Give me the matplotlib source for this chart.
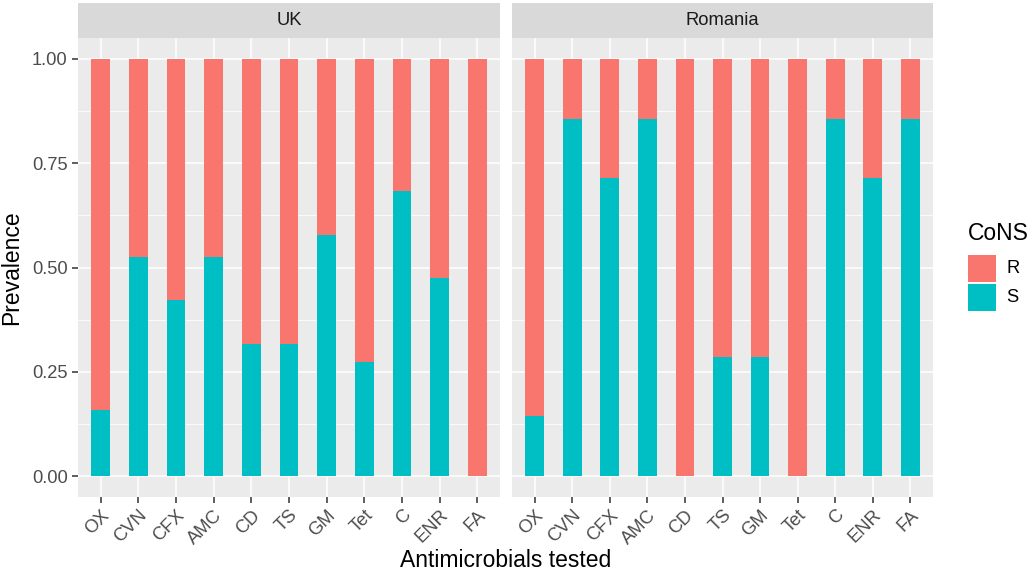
import numpy as np
import matplotlib.pyplot as plt
from matplotlib.patches import Rectangle

plt.rcParams['font.family'] = ['Liberation Sans', 'DejaVu Sans']

# dados
antimicrobianos = ['OX', 'CVN', 'CFX', 'AMC', 'CD', 'TS', 'GM', 'Tet', 'C', 'ENR', 'FA']
paises = ['UK', 'Romania']
s_uk = [0.158, 0.526, 0.421, 0.526, 0.316, 0.316, 0.579, 0.273, 0.684, 0.474, 0.0]
s_ro = [0.143, 0.857, 0.714, 0.857, 0.0, 0.286, 0.286, 0.0, 0.857, 0.714, 0.857]
valores_s = [s_uk, s_ro]
categorias_legenda = ['R', 'S']

COR_R = '#F8766D'
COR_S = '#00BFC4'
CINZA_TXT = '#4D4D4D'

fig = plt.figure(figsize=(10.32, 5.76), dpi=100)

W, H = 1032, 576
paineis_x = [(78, 500), (512, 933)]
topo, base = 38, 497

x = np.arange(len(antimicrobianos))

for i, (pais, s_vals) in enumerate(zip(paises, valores_s)):
    x0, x1 = paineis_x[i]
    ax = fig.add_axes([x0 / W, 1 - base / H, (x1 - x0) / W, (base - topo) / H])
    ax.set_facecolor('#EBEBEB')
    s_vals = np.array(s_vals)
    r_vals = 1 - s_vals
    ax.bar(x, s_vals, width=0.5, color=COR_S, zorder=3)
    ax.bar(x, r_vals, width=0.5, bottom=s_vals, color=COR_R, zorder=3)

    ax.set_xlim(-0.6, len(x) - 0.4)
    ax.set_ylim(-0.05, 1.05)
    ax.set_yticks([0, 0.25, 0.5, 0.75, 1.0])
    ax.set_yticks([0.125, 0.375, 0.625, 0.875], minor=True)
    ax.set_xticks(x)
    ax.set_xticklabels(antimicrobianos, rotation=45, ha='right', va='top',
                       rotation_mode='anchor', fontsize=13.2, color=CINZA_TXT)
    ax.grid(which='major', color='white', linewidth=1.1, zorder=0)
    ax.grid(which='minor', axis='y', color='white', linewidth=0.55, zorder=0)
    for sp in ax.spines.values():
        sp.set_visible(False)
    ax.tick_params(axis='both', which='major', length=4, width=1.1, color='#333333')
    ax.tick_params(axis='x', pad=3)
    ax.tick_params(which='minor', length=0)
    if i == 0:
        ax.set_yticklabels(['0.00', '0.25', '0.50', '0.75', '1.00'], fontsize=13.2, color=CINZA_TXT)
        ax.set_ylabel('Prevalence', fontsize=16.5, labelpad=6)
    else:
        ax.set_yticklabels([])
        ax.tick_params(axis='y', length=0)

    # faixa do painel (strip)
    strip = fig.add_axes([x0 / W, 1 - topo / H, (x1 - x0) / W, (topo - 3) / H])
    strip.set_facecolor('#D9D9D9')
    strip.set_xticks([])
    strip.set_yticks([])
    for sp in strip.spines.values():
        sp.set_visible(False)
    strip.text(0.5, 0.5, pais, ha='center', va='center', fontsize=13.2, color='#1A1A1A')

fig.text((78 + 933) / 2 / W, 1 - 567 / H, 'Antimicrobials tested', ha='center',
         va='baseline', fontsize=16.5)

# legenda manual (estilo ggplot)
fig.text(968 / W, 1 - 240 / H, 'CoNS', ha='left', va='baseline', fontsize=16.5)
for k, (rotulo, cor) in enumerate(zip(categorias_legenda, [COR_R, COR_S])):
    y_top = 255 + k * 29
    fig.add_artist(Rectangle((968 / W, 1 - (y_top + 27) / H), 28 / W, 27 / H,
                             facecolor=cor, edgecolor='none',
                             transform=fig.transFigure))
    fig.text(1006 / W, 1 - (y_top + 13.5) / H, rotulo, ha='left', va='center',
             fontsize=13.2)

plt.savefig('out.png', dpi=100)
